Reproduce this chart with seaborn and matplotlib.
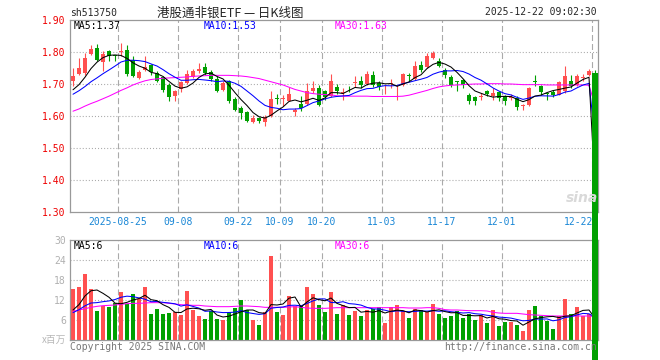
import matplotlib
matplotlib.use("Agg")
import matplotlib.pyplot as plt
import matplotlib.transforms as mtransforms
import seaborn as sns
import numpy as np
import pandas as pd

sns.set_style("white")
plt.rcParams['font.family'] = ['DejaVu Sans Mono', 'Noto Sans CJK SC']
plt.rcParams['lines.scale_dashes'] = False

code = "sh513750"
title = "港股通非银ETF — 日K线图"
stamp = "2025-12-22 09:02:30"

opens = [1.708, 1.732, 1.734, 1.795, 1.812, 1.768, 1.802, 1.789, 1.800, 1.805,
         1.776, 1.719, 1.745, 1.758, 1.734, 1.721, 1.698, 1.664, 1.684, 1.703,
         1.722, 1.742, 1.752, 1.738, 1.717, 1.682, 1.710, 1.654, 1.625, 1.612,
         1.581, 1.594, 1.581, 1.599, 1.656, 1.652, 1.648, 1.614, 1.637, 1.637,
         1.677, 1.687, 1.679, 1.661, 1.690, 1.671, 1.686, 1.703, 1.710, 1.700,
         1.729, 1.703, 1.686, 1.699, 1.686, 1.698, 1.727, 1.717, 1.760, 1.752,
         1.781, 1.773, 1.745, 1.721, 1.705, 1.714, 1.667, 1.658, 1.660, 1.677,
         1.661, 1.675, 1.661, 1.656, 1.656, 1.631, 1.634, 1.705, 1.693, 1.668,
         1.676, 1.667, 1.677, 1.710, 1.696, 1.720, 1.729, 1.734]
highs = [1.750, 1.781, 1.797, 1.821, 1.826, 1.802, 1.807, 1.792, 1.828, 1.821,
         1.786, 1.745, 1.786, 1.762, 1.740, 1.724, 1.703, 1.682, 1.710, 1.745,
         1.748, 1.765, 1.765, 1.745, 1.724, 1.710, 1.714, 1.658, 1.630, 1.617,
         1.602, 1.598, 1.604, 1.679, 1.669, 1.667, 1.692, 1.625, 1.661, 1.703,
         1.708, 1.698, 1.682, 1.730, 1.700, 1.687, 1.693, 1.724, 1.724, 1.740,
         1.742, 1.710, 1.698, 1.717, 1.697, 1.735, 1.734, 1.771, 1.771, 1.797,
         1.804, 1.781, 1.750, 1.729, 1.710, 1.717, 1.672, 1.661, 1.672, 1.682,
         1.687, 1.679, 1.667, 1.669, 1.661, 1.636, 1.690, 1.729, 1.698, 1.672,
         1.680, 1.710, 1.755, 1.727, 1.731, 1.731, 1.748, 1.745]
lows = [1.693, 1.728, 1.729, 1.792, 1.771, 1.740, 1.771, 1.771, 1.786, 1.724,
        1.721, 1.717, 1.742, 1.729, 1.706, 1.675, 1.648, 1.646, 1.675, 1.700,
        1.718, 1.735, 1.729, 1.708, 1.675, 1.679, 1.640, 1.615, 1.592, 1.580,
        1.578, 1.579, 1.568, 1.596, 1.638, 1.630, 1.646, 1.599, 1.615, 1.635,
        1.672, 1.630, 1.651, 1.658, 1.668, 1.651, 1.675, 1.690, 1.688, 1.696,
        1.690, 1.682, 1.669, 1.687, 1.650, 1.693, 1.710, 1.714, 1.738, 1.750,
        1.779, 1.752, 1.719, 1.690, 1.679, 1.687, 1.636, 1.635, 1.651, 1.661,
        1.651, 1.648, 1.635, 1.651, 1.620, 1.620, 1.630, 1.693, 1.667, 1.651,
        1.659, 1.665, 1.672, 1.687, 1.693, 1.710, 1.724, 0.0]
closes = [1.724, 1.750, 1.781, 1.810, 1.776, 1.795, 1.786, 1.787, 1.802, 1.730,
          1.726, 1.736, 1.752, 1.738, 1.710, 1.682, 1.658, 1.679, 1.705, 1.731,
          1.742, 1.746, 1.734, 1.717, 1.679, 1.703, 1.648, 1.618, 1.609, 1.585,
          1.594, 1.583, 1.596, 1.654, 1.652, 1.656, 1.669, 1.619, 1.625, 1.677,
          1.687, 1.635, 1.658, 1.708, 1.677, 1.673, 1.683, 1.705, 1.698, 1.731,
          1.696, 1.690, 1.688, 1.701, 1.689, 1.731, 1.724, 1.755, 1.745, 1.786,
          1.797, 1.755, 1.729, 1.698, 1.703, 1.698, 1.646, 1.646, 1.662, 1.669,
          1.672, 1.656, 1.648, 1.659, 1.627, 1.634, 1.688, 1.703, 1.675, 1.666,
          1.665, 1.706, 1.724, 1.693, 1.726, 1.722, 1.740, 0.0]
volumes = [15.3, 15.9, 19.8, 15.3, 8.7, 10.3, 10.0, 11.0, 14.4, 10.8,
           13.8, 12.2, 15.9, 7.8, 9.3, 7.8, 8.1, 8.5, 7.5, 14.7,
           8.9, 7.2, 6.3, 8.7, 6.3, 6.0, 8.4, 9.6, 12.0, 9.0,
           6.0, 4.5, 8.4, 25.2, 8.4, 7.5, 13.2, 10.2, 10.2, 15.9,
           13.8, 10.5, 8.4, 14.4, 7.8, 10.5, 7.5, 8.7, 7.2, 9.0,
           9.3, 9.9, 5.1, 9.9, 10.5, 8.7, 6.6, 9.3, 9.0, 8.4,
           10.8, 7.8, 6.6, 7.2, 8.7, 6.6, 7.8, 6.0, 7.5, 5.1,
           9.0, 4.2, 5.4, 5.4, 4.5, 2.7, 9.0, 10.2, 7.2, 5.7,
           3.3, 7.2, 12.3, 7.8, 9.9, 7.2, 7.8, 0.0]

# closes / volumes before the visible window (only feed the MA5 / MA10 start)
pre_close = [1.640, 1.650, 1.660, 1.655, 1.665, 1.670, 1.665, 1.675, 1.676]
pre_volume = [7.0, 8.1, 6.9, 7.6, 7.4, 7.8, 6.8, 7.5, 7.6]

ma30 = [1.615, 1.622, 1.631, 1.639, 1.646, 1.654, 1.662, 1.671, 1.680, 1.688,
        1.697, 1.704, 1.710, 1.714, 1.716, 1.718, 1.719, 1.720, 1.721, 1.722,
        1.724, 1.725, 1.726, 1.727, 1.727, 1.727, 1.727, 1.726, 1.725, 1.723,
        1.720, 1.717, 1.712, 1.707, 1.702, 1.697, 1.690, 1.683, 1.678, 1.673,
        1.670, 1.668, 1.667, 1.666, 1.663, 1.662, 1.662, 1.662, 1.662, 1.662,
        1.661, 1.661, 1.661, 1.661, 1.661, 1.662, 1.665, 1.670, 1.675, 1.680,
        1.686, 1.691, 1.694, 1.696, 1.697, 1.698, 1.699, 1.700, 1.700, 1.701,
        1.701, 1.701, 1.700, 1.700, 1.699, 1.698, 1.698, 1.698, 1.698, 1.697,
        1.697, 1.697, 1.697, 1.697, 1.697, 1.697, 1.696, 1.634]
vol_ma30 = [8.6, 9.0, 9.4, 9.8, 10.1, 10.3, 10.4, 10.5, 10.7, 10.9,
            11.0, 11.0, 11.1, 11.2, 11.2, 11.2, 11.0, 10.8, 10.6, 10.5,
            10.4, 10.4, 10.2, 10.1, 10.0, 10.0, 10.0, 10.1, 10.2, 10.2,
            10.1, 10.0, 9.8, 9.8, 9.8, 9.8, 9.9, 10.0, 9.8, 9.6,
            9.5, 9.5, 9.5, 9.6, 9.7, 9.7, 9.7, 9.7, 9.7, 9.7,
            9.7, 9.7, 9.7, 9.7, 9.7, 9.7, 9.6, 9.6, 9.6, 9.7,
            9.7, 9.5, 9.1, 9.0, 9.0, 8.9, 8.8, 8.8, 8.8, 8.7,
            8.3, 8.1, 8.0, 8.0, 8.0, 7.8, 7.6, 7.5, 7.4, 7.3,
            7.2, 7.2, 7.2, 7.2, 7.2, 7.2, 7.2, 7.0]

date_slots = [8, 18, 28, 35, 42, 52, 62, 72, 87]
date_labels = ["2025-08-25", "09-08", "09-22", "10-09", "10-20",
               "11-03", "11-17", "12-01", "12-22"]
price_ticks = [1.30, 1.40, 1.50, 1.60, 1.70, 1.80, 1.90]
vol_ticks = [0, 6, 12, 18, 24, 30]

RED = "#ff5050"
GREEN = "#00a000"
GRID = "#aaaaaa"
W, H = 660, 360
LW = 0.75


def fx(px):
    return px / W


def fy(py):
    return 1 - py / H


n = len(closes)
idx = np.arange(n)
df = pd.DataFrame({"i": idx, "open": opens, "high": highs, "low": lows,
                   "close": closes, "vol": volumes, "ma30": ma30, "vma30": vol_ma30})
c_all = pd.Series(pre_close + closes)
v_all = pd.Series(pre_volume + volumes)
k = len(pre_close)
df["ma5"] = c_all.rolling(5).mean().iloc[k:].values
df["ma10"] = c_all.rolling(10).mean().iloc[k:].values
df["vma5"] = v_all.rolling(5).mean().iloc[k:].values
df["vma10"] = v_all.rolling(10).mean().iloc[k:].values
df["color"] = np.where(df["close"] >= df["open"], RED, GREEN)

fig = plt.figure(figsize=(6.6, 3.6), dpi=100)
fig.patch.set_facecolor("white")
ax = fig.add_axes([fx(70), fy(212), 528 / W, 192 / H])
axv = fig.add_axes([fx(70), fy(340), 528 / W, 100 / H])
ax.set_zorder(3)
ax.patch.set_visible(False)

for a in (ax, axv):
    a.set_xlim(-0.5, n - 0.5)
    for s in a.spines.values():
        s.set_color("#999999")
        s.set_linewidth(0.9)
    for sl in date_slots:
        a.axvline(sl - 0.5, color=GRID, lw=0.8, ls=(0, (4.3, 2.2)), zorder=0)
    a.tick_params(length=0, pad=3)
    a.set_xticks([])

# price panel
ax.set_ylim(1.30, 1.90)
for y in price_ticks[1:-1]:
    ax.axhline(y, color=GRID, lw=0.8, ls=(0, (0.75, 1.45)), zorder=0)
ax.set_yticks(price_ticks)
ax.set_yticklabels(["%.2f" % t for t in price_ticks], color="#ee0000", fontsize=7)

body = df.iloc[:-1]
ax.vlines(body["i"], body["low"], body["high"], colors=body["color"], lw=0.8, zorder=2)
h = (body["close"] - body["open"]).values
h = np.where(np.abs(h) < 0.003, 0.003, h)
ax.bar(body["i"], h, bottom=body["open"], width=0.78, color=body["color"], lw=0, zorder=2)

last = df.iloc[-1]
ax.vlines(last["i"], last["low"], last["high"], colors=last["color"], lw=0.8, zorder=5)
bars = ax.bar([last["i"]], [last["close"] - last["open"]], bottom=[last["open"]],
              width=1.0, color=last["color"], lw=0, zorder=5)
for p in bars:
    p.set_clip_on(False)

sns.lineplot(data=df, x="i", y="ma30", ax=ax, color="#ff00ff", lw=LW, zorder=3)
sns.lineplot(data=df, x="i", y="ma10", ax=ax, color="#0000ff", lw=LW, zorder=3)
sns.lineplot(data=df, x="i", y="ma5", ax=ax, color="black", lw=LW, zorder=3)
ax.set_xlabel("")
ax.set_ylabel("")
ax.set_xlim(-0.5, n - 0.5)
ax.set_ylim(1.30, 1.90)

trans = mtransforms.blended_transform_factory(ax.transData, fig.transFigure)
for sl, lab in zip(date_slots, date_labels):
    if sl == date_slots[-1]:
        ax.text(sl - 0.3, fy(222), lab, transform=trans, ha="right", va="center",
                fontsize=7, color="#1a87d6")
    else:
        ax.text(sl - 0.5, fy(222), lab, transform=trans, ha="center", va="center",
                fontsize=7, color="#1a87d6")

# volume panel
axv.set_ylim(0, 30)
for y in vol_ticks[1:-1]:
    axv.axhline(y, color=GRID, lw=0.8, ls=(0, (0.75, 1.45)), zorder=0)
axv.set_yticks(vol_ticks)
axv.set_yticklabels([""] + [str(t) for t in vol_ticks[1:]], color="#b0b0b0", fontsize=7)
axv.bar(df["i"], df["vol"], width=0.8, color=df["color"], lw=0, zorder=2)
sns.lineplot(data=df, x="i", y="vma30", ax=axv, color="#ff00ff", lw=LW, zorder=3)
sns.lineplot(data=df, x="i", y="vma10", ax=axv, color="#0000ff", lw=LW, zorder=3)
sns.lineplot(data=df, x="i", y="vma5", ax=axv, color="black", lw=LW, zorder=3)
axv.set_xlabel("")
axv.set_ylabel("")
axv.set_xlim(-0.5, n - 0.5)
axv.set_ylim(0, 30)

# texts
fig.text(fx(70), fy(13), code, fontsize=7, va="center", ha="left")
fig.text(fx(230), fy(13), title, fontsize=9, va="center", ha="center",
         family=["Noto Sans CJK SC", "DejaVu Sans"])
fig.text(fx(597), fy(12), stamp, fontsize=7, va="center", ha="right")
fig.text(fx(74), fy(26), "MA5:1.37", fontsize=7, va="center", color="black", zorder=6)
fig.text(fx(204), fy(26), "MA10:1.53", fontsize=7, va="center", color="#0000ff", zorder=6)
fig.text(fx(335), fy(26), "MA30:1.63", fontsize=7, va="center", color="#ff00ff", zorder=6)
fig.text(fx(74), fy(246), "MA5:6", fontsize=7, va="center", color="black")
fig.text(fx(204), fy(246), "MA10:6", fontsize=7, va="center", color="#0000ff")
fig.text(fx(335), fy(246), "MA30:6", fontsize=7, va="center", color="#ff00ff")
fig.text(fx(66), fy(340), "x百万", fontsize=7, va="center", ha="right", color="#b8b8b8",
         family=["Noto Sans CJK SC", "DejaVu Sans"])
fig.text(fx(70), fy(347), "Copyright 2025 SINA.COM", fontsize=7, va="center", color="#777777")
fig.text(fx(597), fy(347), "http://finance.sina.com.cn", fontsize=7, va="center", ha="right",
         color="#777777")
fig.text(fx(582), fy(198), "sina", fontsize=10, va="center", ha="center", color="#d9d9d9",
         style="italic", weight="bold", family="DejaVu Sans")

fig.savefig("out.png", dpi=100, facecolor="white")
